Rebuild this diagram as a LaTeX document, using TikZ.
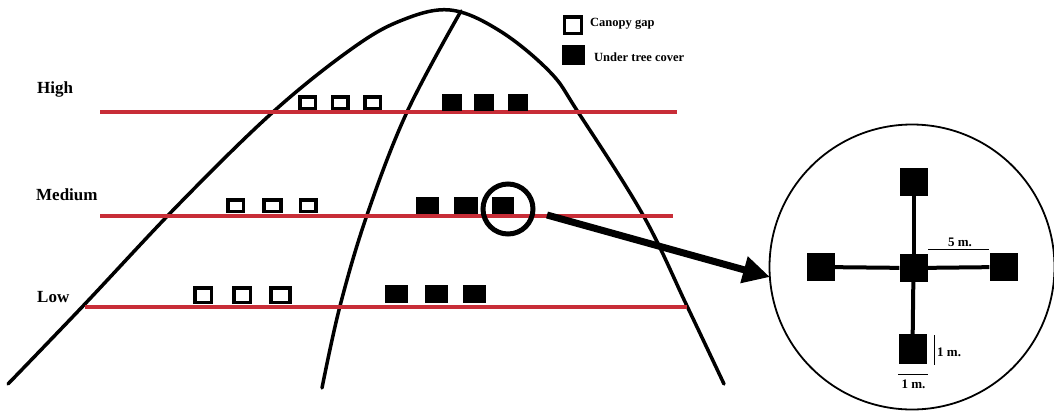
\documentclass[tikz,border=0pt]{standalone}
\usepackage{fontspec}
\setmainfont{Liberation Serif}
\usetikzlibrary{arrows.meta}
\definecolor{redline}{RGB}{200,45,55}
\begin{document}
\begin{tikzpicture}[x=1pt,y=-1pt,
  curve/.style={line width=3.5pt,line join=round,line cap=round},
  level/.style={draw=redline,line width=3.5pt},
  lab/.style={font=\fontsize{17}{20}\selectfont\bfseries,anchor=west,inner sep=0},
  legtext/.style={font=\fontsize{12.5}{15}\selectfont\bfseries,anchor=west,inner sep=0},
  opensq/.style={draw,line width=3.5pt,minimum width=15.5pt,minimum height=11.5pt,inner sep=0},
  fillsq/.style={fill=black,minimum width=#1,minimum height=17pt,inner sep=0},
  fillsq/.default=21pt,
  bigsq/.style={fill=black,minimum width=28pt,minimum height=28pt,inner sep=0},
  arm/.style={line width=4pt},
  meas/.style={line width=0.9pt},
  mtext/.style={font=\fontsize{13}{15}\selectfont\bfseries,inner sep=0}
]
\useasboundingbox (0,0) rectangle (1054,410);

% hill outline
\draw[curve] plot[smooth,tension=0.6] coordinates {(8,384) (83,306) (180,203) (273,112) (350,50) (400,21) (450,10) (500,31) (550,72) (578,112) (643,215) (687,306) (724,384)};
% middle dividing curve
\draw[curve] plot[smooth,tension=0.6] coordinates {(461,11) (407,112) (367,215) (340,306) (322,388)};

% red levels
\draw[level] (100,112) -- (677,112);
\draw[level] (100,216) -- (673,216);
\draw[level] (85,307) -- (687,307);

% labels
\node[lab] (lhigh) at (37,89) {High};
\node[lab] (lmed) at (36,195) {Medium};
\node[lab] (llow) at (37,297) {Low};

% legend
\node[opensq,minimum width=17pt,minimum height=16.5pt] (legopen) at (573,25) {};
\node[legtext] (legopent) at (590,24) {Canopy gap};
\node[fillsq=23pt,minimum height=20pt] (legfill) at (573.5,55) {};
\node[legtext] (legfillt) at (594,57) {Under tree cover};

% high row
\node[opensq] (ho1) at (307.5,102.5) {};
\node[opensq] (ho2) at (340,102.5) {};
\node[opensq] (ho3) at (372.5,102.5) {};
\node[fillsq=20pt] (hf1) at (452,102.5) {};
\node[fillsq=20pt] (hf2) at (483.5,102.5) {};
\node[fillsq=20pt] (hf3) at (517.5,102.5) {};

% medium row
\node[opensq] (mo1) at (235.5,205.5) {};
\node[opensq,minimum width=17pt] (mo2) at (272.5,205.5) {};
\node[opensq] (mo3) at (308,205.5) {};
\node[fillsq=23pt] (mf1) at (427.5,205.5) {};
\node[fillsq=24pt] (mf2) at (466,205.5) {};
\node[fillsq=22pt] (mf3) at (503,205.5) {};
\node[draw,circle,line width=5pt,minimum size=50pt,inner sep=0] (mag) at (508,209) {};

% low row
\node[opensq,minimum width=16.5pt,minimum height=14.5pt] (lo1) at (203,295) {};
\node[opensq,minimum width=16.5pt,minimum height=14.5pt] (lo2) at (242,295) {};
\node[opensq,minimum width=19pt,minimum height=14.5pt] (lo3) at (280.5,295) {};
\node[fillsq=23pt,minimum height=18pt] (lf1) at (396.5,294) {};
\node[fillsq=23pt,minimum height=18pt] (lf2) at (436.5,294) {};
\node[fillsq=23pt,minimum height=18pt] (lf3) at (474.5,294) {};

% arrow to magnified plot
\coordinate (arrS) at (547,215);
\coordinate (arrE) at (770,277);
\draw[line width=7pt,-{Triangle[length=27pt,width=26pt]}] (arrS) -- (arrE);

% magnified plot
\node[draw,circle,line width=1.8pt,minimum size=285pt,inner sep=0] (big) at (912,267) {};
\node[bigsq] (pc) at (913.5,268) {};
\node[bigsq] (pt) at (913.5,182) {};
\node[bigsq] (pl) at (820.5,267) {};
\node[bigsq] (pr) at (1003.5,267) {};
\node[bigsq,minimum height=30pt] (pb) at (912.5,349) {};
\draw[arm] (pt) -- (pc);
\draw[arm] (pc) -- (pb);
\draw[arm] (pl) -- (pc);
\draw[arm] (pc) -- (pr);

% measurements
\coordinate (m5a) at (928,249);
\coordinate (m5b) at (989,249);
\draw[meas] (m5a) -- (m5b);
\node[mtext] (t5) at (960,242) {5 m.};
\coordinate (m1a) at (934,335);
\coordinate (m1b) at (934,365);
\draw[meas] (m1a) -- (m1b);
\node[mtext,anchor=west] (t1v) at (937,352) {1 m.};
\coordinate (m1c) at (898,374);
\coordinate (m1d) at (928,374);
\draw[meas] (m1c) -- (m1d);
\node[mtext] (t1h) at (913.5,384) {1 m.};
\end{tikzpicture}
\end{document}
